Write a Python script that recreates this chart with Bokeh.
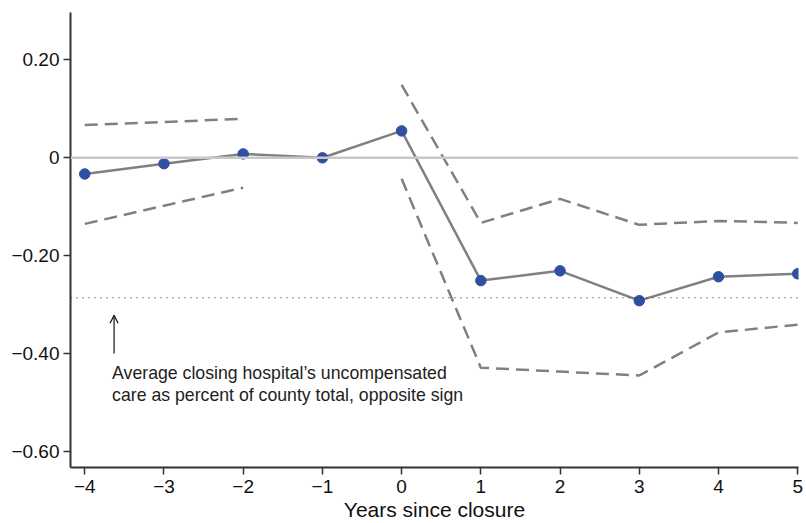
import numpy as np
from bokeh.plotting import figure
from bokeh.models import Span, Arrow, OpenHead, Label, FixedTicker
from bokeh.embed import file_html
from bokeh.resources import INLINE

years = [-4, -3, -2, -1, 0, 1, 2, 3, 4, 5]
estimate = [-0.033, -0.012, 0.008, 0.0, 0.055, -0.251, -0.231, -0.292, -0.243, -0.237]
upper_ci = [0.067, 0.073, 0.080, np.nan, 0.149, -0.133, -0.084, -0.137, -0.129, -0.133]
lower_ci = [-0.135, -0.098, -0.061, np.nan, -0.043, -0.429, -0.437, -0.445, -0.357, -0.341]
avg_share = -0.286
y_ticks = [-0.6, -0.4, -0.2, 0.0, 0.2]
y_tick_labels = {-0.6: "\u22120.60", -0.4: "\u22120.40", -0.2: "\u22120.20", 0.0: "0", 0.2: "0.20"}
x_tick_labels = {y: (("\u2212" + str(-y)) if y < 0 else str(y)) for y in years}
note = "Average closing hospital\u2019s uncompensated\ncare as percent of county total, opposite sign"

FONT = "Liberation Sans"

p = figure(width=806, height=523, x_range=(-4.18, 5.01), y_range=(-0.633, 0.297),
           output_backend="svg", toolbar_location=None,
           min_border_left=70, min_border_right=8, min_border_top=12, min_border_bottom=56)
p.outline_line_color = None
p.xgrid.visible = False
p.ygrid.visible = False

# zero line
p.add_layout(Span(location=0, dimension="width", line_color="#c8c8c8", line_width=2.5))
# average share dotted
p.add_layout(Span(location=avg_share, dimension="width", line_color="#222222",
                  line_width=1.2, line_dash="1 5"))

p.line(years, upper_ci, line_color="#808080", line_width=2.5, line_dash="13 7")
p.line(years, lower_ci, line_color="#808080", line_width=2.5, line_dash="13 7")
p.line(years, estimate, line_color="#808080", line_width=2.5)
p.scatter(years, estimate, size=10.5, fill_color="#2f4fa3", line_color="#2f4fa3")

p.add_layout(Arrow(end=OpenHead(size=8, line_color="#111111", line_width=1.2),
                   x_start=-3.63, y_start=-0.40, x_end=-3.63, y_end=-0.322,
                   line_color="#111111", line_width=1.2))
p.add_layout(Label(x=-3.655, y=-0.462, text=note, text_font=FONT, text_font_size="17.7px",
                   text_color="#222222", text_baseline="middle", text_line_height=1.1))

p.yaxis.ticker = FixedTicker(ticks=y_ticks)
p.yaxis.major_label_overrides = y_tick_labels
p.xaxis.ticker = FixedTicker(ticks=years)
p.xaxis.major_label_overrides = x_tick_labels
p.xaxis.axis_label = "Years since closure"
for ax in (p.xaxis, p.yaxis):
    ax.axis_line_color = "#333333"
    ax.axis_line_width = 2
    ax.major_tick_line_color = "#333333"
    ax.major_tick_line_width = 1.5
    ax.major_tick_in = 0
    ax.major_tick_out = 7
    ax.minor_tick_line_color = None
    ax.major_label_text_font = FONT
    ax.major_label_text_font_size = "19px"
    ax.major_label_text_color = "#111111"
p.xaxis.major_label_standoff = 5
p.yaxis.major_label_standoff = 4
p.xaxis.axis_label_text_font = FONT
p.xaxis.axis_label_text_font_size = "21px"
p.xaxis.axis_label_text_font_style = "normal"
p.xaxis.axis_label_text_color = "#111111"
p.xaxis.axis_label_standoff = 2

open("out.html", "w").write(file_html(p, INLINE))
